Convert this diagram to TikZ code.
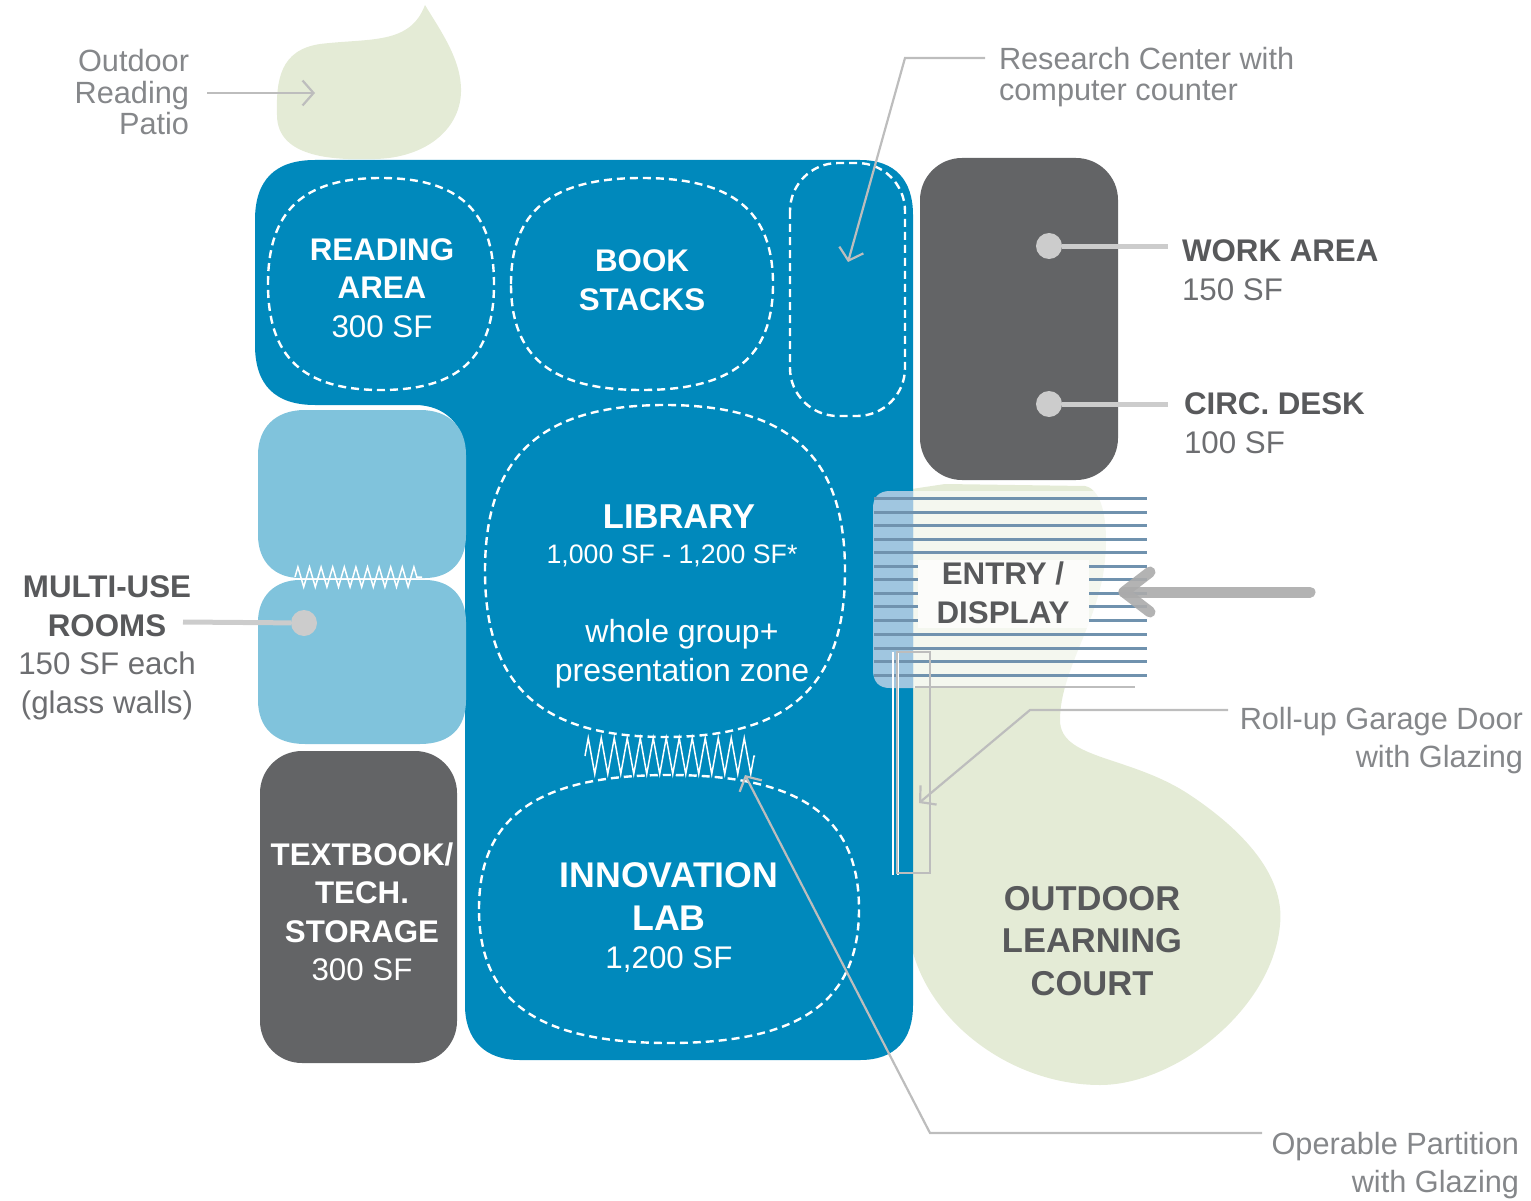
\documentclass[tikz,border=0pt]{standalone}
\usepackage{fontspec}
\setmainfont{Liberation Sans}
\usetikzlibrary{arrows.meta,decorations.pathmorphing,calc}
\definecolor{bluemain}{HTML}{0089BC}
\definecolor{bluelight}{HTML}{80C3DC}
\definecolor{bluewash}{HTML}{A0C6E0}
\definecolor{darkbox}{HTML}{636466}
\definecolor{greenpale}{HTML}{E4EBD6}
\definecolor{leader}{HTML}{BDBDBD}
\definecolor{dotgray}{HTML}{CCCCCC}
\definecolor{stripe}{HTML}{7092AE}
\definecolor{labelgray}{HTML}{85878A}
\definecolor{textdark}{HTML}{58595B}
\definecolor{textmid}{HTML}{6D6E71}
\tikzset{
  txt/.style={inner sep=0pt,outer sep=0pt,align=center,font=\fontsize{31.3}{38.5}\selectfont},
  big/.style={txt,font=\fontsize{34.5}{42.5}\selectfont\bfseries},
  note/.style={inner sep=0pt,outer sep=0pt,text=labelgray,font=\fontsize{30.7}{31.5}\selectfont},
  noter/.style={note,align=right,anchor=base east},
  dashline/.style={draw=white,line width=2.4pt,dash pattern=on 8pt off 5pt},
  leaderline/.style={draw=leader,line width=2.2pt},
  leadertip/.style={leaderline,-{Straight Barb[length=11pt,width=25pt,line width=2.2pt]}},
  dotline/.style={draw=dotgray,line width=5pt},
  dotnode/.style={circle,fill=dotgray,minimum size=26pt,inner sep=0pt,outer sep=0pt},
  zig/.style={draw=white,line width=1.5pt,decorate},
  stripeline/.style={draw=stripe,line width=3pt},
}
\newcommand{\softblob}[4]{%
  \draw[dashline] ({#1-#3},#2)
   .. controls ({#1-#3},{#2-0.69*#4}) and ({#1-0.69*#3},{#2-#4}) .. (#1,{#2-#4})
   .. controls ({#1+0.69*#3},{#2-#4}) and ({#1+#3},{#2-0.69*#4}) .. ({#1+#3},#2)
   .. controls ({#1+#3},{#2+0.69*#4}) and ({#1+0.69*#3},{#2+#4}) .. (#1,{#2+#4})
   .. controls ({#1-0.69*#3},{#2+#4}) and ({#1-#3},{#2+0.69*#4}) .. cycle;}
\begin{document}
\begin{tikzpicture}[x=1pt,y=-1pt]
\useasboundingbox (0,0) rectangle (1531,1201);
% green areas
\fill[greenpale] (425,5) .. controls (440,30) and (462,60) .. (461,92)
  .. controls (460,130) and (425,158) .. (375,159) .. controls (340,160) and (277,160) .. (277,115)
  .. controls (276,80) and (280,50) .. (320,44) .. controls (370,38) and (410,45) .. cycle;
\fill[greenpale] (945,484) -- (1085,486) .. controls (1105,490) and (1108,530) .. (1105,560)
  .. controls (1100,620) and (1060,670) .. (1060,720) .. controls (1060,760) and (1130,755) .. (1190,795)
  .. controls (1250,835) and (1285,880) .. (1280,925) .. controls (1272,1010) and (1175,1085) .. (1100,1085)
  .. controls (1010,1085) and (925,1020) .. (910,940) -- (905,490) -- cycle;
% main blue
\fill[bluemain] (315,160) -- (860,160) .. controls (895,160) and (913,180) .. (913,215)
  -- (913,1005) .. controls (913,1040) and (895,1060) .. (860,1060)
  -- (520,1060) .. controls (485,1060) and (465,1040) .. (465,1005)
  -- (465,455) .. controls (465,425) and (445,405) .. (415,405)
  -- (315,405) .. controls (275,405) and (255,385) .. (255,345)
  -- (255,220) .. controls (255,180) and (275,160) .. (315,160) -- cycle;
% rooms
\fill[bluelight] (305,410) -- (420,410) .. controls (450,410) and (466,428) .. (466,455)
  -- (466,535) .. controls (466,562) and (450,578) .. (425,578) -- (300,578)
  .. controls (275,578) and (258,562) .. (258,535) -- (258,455) .. controls (258,428) and (275,410) .. (305,410) -- cycle;
\fill[bluelight] (300,580) -- (425,580) .. controls (450,580) and (466,596) .. (466,622)
  -- (466,700) .. controls (466,728) and (450,744) .. (420,744) -- (305,744)
  .. controls (275,744) and (258,728) .. (258,700) -- (258,622) .. controls (258,596) and (275,580) .. (300,580) -- cycle;
\fill[darkbox,rounded corners=42pt] (920,158) rectangle (1118,480);
\fill[darkbox,rounded corners=42pt] (260,751) rectangle (457,1063);
% entry overlay
\fill[white,opacity=0.62] (913,491) -- (1147,491) -- (1147,688) -- (913,688) -- cycle;
\fill[bluewash] (913,491) -- (890,491) .. controls (879,491) and (873,497) .. (873,508)
  -- (873,670) .. controls (873,682) and (879,688) .. (890,688) -- (913,688) -- cycle;
\fill[white,opacity=0.75] (918,560) rectangle (1089,628);
\foreach \yy in {498,512,525,539,552,634,648,661,675} {\draw[stripeline] (874,\yy) -- (1147,\yy);}
\foreach \yy in {566,579.5,593,606.5,620.5} {\draw[stripeline] (874,\yy) -- (918,\yy); \draw[stripeline] (1089,\yy) -- (1147,\yy);}
\draw[draw=leader,line width=1.2pt] (915,687) -- (1135,687);
% arrow
\coordinate (entrystart) at (1310,592);
\coordinate (entrytip) at (1124,592);
\draw[draw=black!33,opacity=0.9,line width=11pt,line cap=round] (entrystart) -- (entrytip);
\draw[draw=black!33,opacity=0.9,line width=11pt,line cap=round,line join=round] (1150,572) -- (entrytip) -- (1150,612);
% dashed zones
\softblob{381}{284}{113}{106}
\softblob{642}{284}{131}{106}
\softblob{665}{571}{180}{166}
\softblob{669}{909}{190}{134}
\draw[dashline,rounded corners=48pt] (790,163) rectangle (905,416);
% partitions
\draw[zig,decoration={zigzag,segment length=11.6pt,amplitude=10pt}] (295,577) -- (422,577);
\draw[zig,decoration={zigzag,segment length=13pt,amplitude=18pt}] (585,756) -- (755,756);
\draw[draw=white,line width=1.6pt] (893,652) -- (893,875) (898,652) -- (898,875);
\draw[draw=leader,line width=1.8pt] (897,652) rectangle (930,873);
% text in shapes
\node[txt,text=white] (reading) at (382,288) {\bfseries READING\\\bfseries AREA\\300 SF};
\node[txt,text=white,font=\fontsize{31.3}{38.5}\selectfont\bfseries] (book) at (642,280) {BOOK\\STACKS};
\node[big,text=white,anchor=base] (library) at (679,528) {LIBRARY};
\node[txt,text=white,font=\fontsize{26.7}{32}\selectfont,anchor=base] (libsize) at (672,563) {1,000 SF - 1,200 SF*};
\node[txt,text=white,font=\fontsize{32}{38.5}\selectfont,anchor=base] (libuse) at (682,681) {whole group+\\presentation zone};
\node[big,text=white,font=\fontsize{35.7}{42.5}\selectfont\bfseries,anchor=base] (innov) at (669,930) {INNOVATION\\LAB};
\node[txt,text=white,anchor=base] (innovsf) at (669,968) {1,200 SF};
\node[txt,text=white] (storage) at (362,912) {\bfseries TEXTBOOK/\\\bfseries TECH.\\\bfseries STORAGE\\300 SF};
\node[txt,text=textdark,font=\fontsize{31.3}{38.5}\selectfont\bfseries] (entry) at (1003,593) {ENTRY /\\DISPLAY};
\node[big,text=textdark] (court) at (1092,941) {OUTDOOR\\LEARNING\\COURT};
% left label
\node[txt,text=textmid] (multi) at (107,648) {\textcolor{textdark}{\bfseries MULTI-USE}\\\textcolor{textdark}{\bfseries ROOMS}\\150 SF each\\(glass walls)};
% right labels
\node[txt,text=textmid,align=left,anchor=west] (work) at (1182,270) {\textcolor{textdark}{\bfseries WORK AREA}\\150 SF};
\node[txt,text=textmid,align=left,anchor=west] (circ) at (1184,423) {\textcolor{textdark}{\bfseries CIRC. DESK}\\100 SF};
% dots
\node[dotnode] (workdot) at (1049,246) {};
\node[dotnode] (circdot) at (1049,404) {};
\node[dotnode] (multidot) at (304,623) {};
\coordinate (workend) at (1168,246);
\coordinate (circend) at (1168,404);
\coordinate (multiend) at (183,622);
\draw[dotline] (workdot) -- (workend);
\draw[dotline] (circdot) -- (circend);
\draw[dotline] (multidot) -- (multiend);
% notes
\node[noter] (patio) at (189,135) {Outdoor\\Reading\\Patio};
\node[note,align=left,anchor=base west] (research) at (999,101) {Research Center with\\computer counter};
\node[noter,font=\fontsize{30.7}{38}\selectfont] (rollup) at (1523,767) {Roll-up Garage Door\\with Glazing};
\node[noter,font=\fontsize{30.7}{38}\selectfont] (operable) at (1519,1192) {Operable Partition\\with Glazing};
% leaders
\coordinate (patiostart) at (207,93);
\coordinate (patioend) at (315,93);
\coordinate (resstart) at (985,58);
\coordinate (resbend) at (905,58);
\coordinate (resend) at (848,262);
\coordinate (rollstart) at (1228,710);
\coordinate (rollbend) at (1030,710);
\coordinate (rollend) at (919,803);
\coordinate (opstart) at (1262,1133);
\coordinate (opbend) at (930,1133);
\coordinate (opend) at (745,775);
\draw[leadertip] (patiostart) -- (patioend);
\draw[leadertip] (resstart) -- (resbend) -- (resend);
\draw[leadertip] (rollstart) -- (rollbend) -- (rollend);
\draw[leadertip] (opstart) -- (opbend) -- (opend);
\end{tikzpicture}
\end{document}
